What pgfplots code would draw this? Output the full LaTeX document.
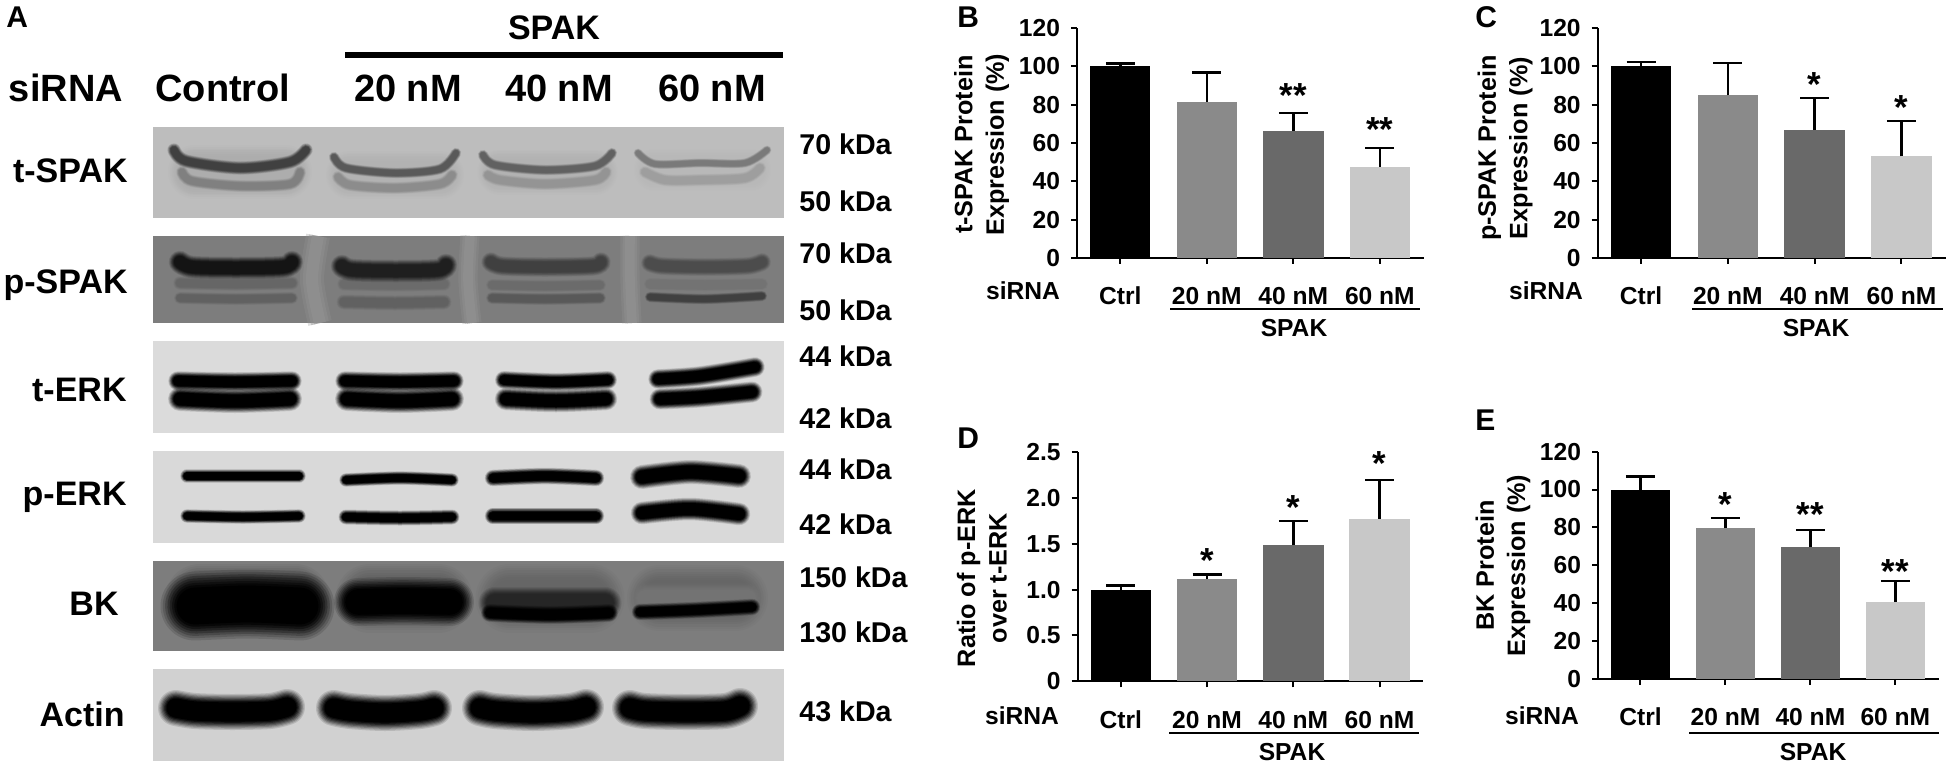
\documentclass[border=0pt]{standalone}
\usepackage{fontspec}
\setmainfont{Liberation Sans}
\usepackage{pgfplots}
\pgfplotsset{compat=1.18}
\definecolor{cA}{HTML}{000000}
\definecolor{cB}{HTML}{8A8A8A}
\definecolor{cC}{HTML}{696969}
\definecolor{cD}{HTML}{C8C8C8}
% soft band of a blot: #1 colour, #2 width in px, #3 points
\newcommand{\band}[3]{%
 \addplot[smooth,line cap=round,draw=#1,line width=1.5*#2*0.5pt,opacity=.12] coordinates {#3};
 \addplot[smooth,line cap=round,draw=#1,line width=1.4*#2*0.5pt,opacity=.15] coordinates {#3};
 \addplot[smooth,line cap=round,draw=#1,line width=1.3*#2*0.5pt,opacity=.2] coordinates {#3};
 \addplot[smooth,line cap=round,draw=#1,line width=1.2*#2*0.5pt,opacity=.25] coordinates {#3};
 \addplot[smooth,line cap=round,draw=#1,line width=1.1*#2*0.5pt,opacity=.3] coordinates {#3};
 \addplot[smooth,line cap=round,draw=#1,line width=1.0*#2*0.5pt,opacity=.4] coordinates {#3};
 \addplot[smooth,line cap=round,draw=#1,line width=0.9*#2*0.5pt,opacity=.6] coordinates {#3};
 \addplot[smooth,line cap=round,draw=#1,line width=0.8*#2*0.5pt] coordinates {#3};
}
\newcommand{\gap}[2]{%
 \addplot[smooth,draw=black!42,line width=1.2*#1*0.5pt,opacity=.3] coordinates {#2};
 \addplot[smooth,draw=black!42,line width=0.9*#1*0.5pt,opacity=.4] coordinates {#2};
 \addplot[smooth,draw=black!42,line width=0.6*#1*0.5pt,opacity=.5] coordinates {#2};
}
\newcommand{\blot}[5]{\addplot[fill=#5,draw=none] coordinates {(#1,#2)(#3,#2)(#3,#4)(#1,#4)} --cycle;}
\newcommand{\TX}[5]{\node[anchor=#3,font=\bfseries\fontsize{#4}{#4}\selectfont,inner sep=0pt] at (axis cs:#1,#2) {#5};}
\newcommand{\hln}[3]{\addplot[draw=black,line width=1.15pt] coordinates {(#1,#3)(#2,#3)};}
\newcommand{\stars}[3]{\node[anchor=base,yshift=-8pt,inner sep=0pt,font=\bfseries\fontsize{17.4}{17.4}\selectfont] at (axis cs:#1,#2) {#3};}
\newcommand{\onebar}[4]{\addplot[ybar,bar shift=0pt,fill=#1,draw=none,
   error bars/.cd,y dir=plus,y explicit,
   error bar style={draw=black,line width=1.3pt},
   error mark options={rotate=90,draw=black,line width=1.2pt,mark size=7.25pt}]
   coordinates {(#2,#3) +- (0,#4)};}
\pgfplotsset{bars/.style={
  scale only axis,clip=false,axis x line=bottom,axis y line=left,
  axis line style={-,line width=1pt,black},
  tick style={black,line width=1pt},tick align=outside,
  major tick length=3pt,
  xmin=-0.5,xmax=3.51,ymin=0,bar width=30.2pt,
  xtick={0,1,2,3},xticklabels={Ctrl,20 nM,40 nM,60 nM},
  tick label style={font=\bfseries\fontsize{12.3}{14}\selectfont},
  /pgf/number format/assume math mode=true,
  xticklabel style={anchor=base,yshift=-20.5pt,inner sep=0pt},
  yticklabel style={xshift=-2pt},
},
yl/.style n args={3}{ylabel={#1},y label style={at={(axis description cs:#2,#3)},anchor=center,align=center,inner sep=0pt,font=\bfseries\fontsize{12.6}{15.7}\selectfont}}}
\begin{document}
\begin{tikzpicture}
\path[use as bounding box] (0,0) rectangle (975pt,383pt);
\begin{axis}[at={(0pt,0pt)},anchor=south west,scale only axis,width=975pt,height=383pt,
  xmin=0,xmax=1950,ymin=0,ymax=766,y dir=reverse,hide axis,clip=false]
% blot backgrounds
\blot{153}{127}{784}{218}{black!26}
\blot{153}{236}{784}{323}{black!51}
\blot{153}{341}{784}{433}{black!14}
\blot{153}{451}{784}{543}{black!15}
\blot{153}{561}{784}{651}{black!51}
\blot{153}{669}{784}{761}{black!18}
% t-SPAK
\band{black!32}{36}{(195,172)(285,172)}
\band{black!30}{32}{(350,175)(440,175)}
\band{black!30}{30}{(500,172)(595,172)}
\band{black!28}{28}{(655,170)(750,170)}
\band{black!75}{9}{(174,150)(186,161)(240,168)(290,162)(306,150)}
\band{black!50}{8}{(182,172)(192,181)(240,186)(290,184)(300,172)}
\band{black!65}{7}{(334,157)(346,168)(395,173)(440,169)(456,153)}
\band{black!45}{8}{(338,177)(350,185)(395,188)(440,184)(452,175)}
\band{black!62}{7}{(483,155)(495,165)(545,170)(595,166)(612,153)}
\band{black!42}{8}{(488,175)(500,180)(545,184)(595,180)(606,172)}
\band{black!52}{6}{(638,153)(655,164)(700,163)(745,163)(767,150)}
\band{black!38}{8}{(645,172)(665,180)(700,180)(745,178)(760,168)}
% p-SPAK
\gap{20}{(318,236)(312,280)(320,323)}
\gap{16}{(470,236)(468,280)(472,323)}
\gap{16}{(630,236)(630,280)(632,323)}
\band{black!60}{9}{(180,283)(236,284)(292,283)}
\band{black!62}{8}{(180,298)(236,299)(292,298)}
\band{black!92}{15}{(180,262)(192,267)(236,268)(283,267)(292,262)}
\band{black!58}{9}{(344,284)(395,285)(444,284)}
\band{black!62}{10}{(344,302)(395,303)(444,302)}
\band{black!88}{15}{(342,266)(352,270)(395,271)(438,270)(446,265)}
\band{black!58}{8}{(492,285)(545,286)(600,285)}
\band{black!65}{8}{(492,298)(545,299)(600,298)}
\band{black!75}{13}{(491,262)(502,266)(545,267)(593,266)(601,262)}
\band{black!55}{8}{(650,284)(705,285)(762,284)}
\band{black!75}{7}{(650,297)(705,299)(762,296)}
\band{black!70}{12}{(650,263)(662,266)(705,267)(748,266)(762,262)}
% t-ERK
\band{black}{13}{(178,381)(235,382)(292,381)}
\band{black}{16}{(180,399)(235,401)(290,399)}
\band{black}{13}{(345,381)(400,382)(454,381)}
\band{black}{16}{(347,399)(400,401)(452,399)}
\band{black}{12}{(504,380)(556,382)(608,380)}
\band{black}{15}{(506,399)(556,401)(606,399)}
\band{black}{13}{(658,379)(700,376)(755,367)}
\band{black}{14}{(660,399)(700,397)(752,392)}
% p-ERK
\band{black}{9}{(187,476)(243,476)(299,476)}
\band{black}{9}{(187,516)(243,517)(299,516)}
\band{black}{9}{(346,480)(400,478)(452,480)}
\band{black}{10}{(346,517)(400,518)(452,517)}
\band{black}{11}{(493,478)(545,476)(596,478)}
\band{black}{11}{(493,516)(545,516)(596,516)}
\band{black}{16}{(642,477)(690,472)(739,476)}
\band{black}{15}{(642,513)(690,509)(739,514)}
% BK
\band{black!66}{46}{(200,598)(295,598)}
\band{black!62}{46}{(370,598)(438,598)}
\band{black!60}{46}{(510,598)(590,598)}
\band{black!60}{44}{(660,598)(735,598)}
\band{black}{46}{(195,606)(247,604)(300,606)}
\band{black}{32}{(358,602)(403,601)(450,602)}
\band{black!85}{22}{(495,603)(550,603)(605,603)}
\band{black}{12}{(490,613)(550,615)(609,613)}
\band{black!55}{20}{(645,598)(696,598)(748,598)}
\band{black}{11}{(640,612)(696,610)(752,607)}
% Actin
\band{black}{24}{(176,708)(195,711)(232,712)(270,711)(287,707)}
\band{black}{24}{(334,708)(350,711)(385,713)(420,711)(434,708)}
\band{black}{24}{(480,708)(495,711)(533,713)(570,711)(586,707)}
\band{black}{24}{(630,708)(645,711)(685,712)(725,711)(740,706)}
% panel A text
\TX{6}{27}{base west}{15}{A}
\TX{554}{39}{base}{17}{SPAK}
\addplot[draw=black,line width=2.9pt] coordinates {(345,55)(783,55)};
\TX{66}{101.7}{base}{19}{siRNA}
\TX{223}{101.7}{base}{19}{Control}
\TX{408}{101.7}{base}{19}{20 nM}
\TX{559}{101.7}{base}{19}{40 nM}
\TX{712}{101.7}{base}{19}{60 nM}
\TX{128}{182}{base east}{17}{t-SPAK}
\TX{128}{293}{base east}{17}{p-SPAK}
\TX{127}{401}{base east}{17}{t-ERK}
\TX{127}{505.7}{base east}{17}{p-ERK}
\TX{119}{615}{base east}{17}{BK}
\TX{125}{726}{base east}{17}{Actin}
\TX{799}{154}{base west}{14.3}{70 kDa}
\TX{799}{211}{base west}{14.3}{50 kDa}
\TX{799}{263}{base west}{14.3}{70 kDa}
\TX{799}{320}{base west}{14.3}{50 kDa}
\TX{799}{366}{base west}{14.3}{44 kDa}
\TX{799}{428}{base west}{14.3}{42 kDa}
\TX{799}{479}{base west}{14.3}{44 kDa}
\TX{799}{534}{base west}{14.3}{42 kDa}
\TX{799}{587}{base west}{14.3}{150 kDa}
\TX{799}{642}{base west}{14.3}{130 kDa}
\TX{799}{721}{base west}{14.3}{43 kDa}
% panel letters and group labels
\TX{957}{27}{base west}{15}{B}
\TX{1475}{27}{base west}{15}{C}
\TX{957}{448}{base west}{15}{D}
\TX{1475}{430}{base west}{15}{E}
\TX{1023}{299}{base}{12.3}{siRNA}
\TX{1546}{299}{base}{12.3}{siRNA}
\TX{1022}{724}{base}{12.3}{siRNA}
\TX{1542}{724}{base}{12.3}{siRNA}
\hln{1170}{1420}{309}
\hln{1692}{1943}{309}
\hln{1169}{1419}{733}
\hln{1689}{1939}{733}
\TX{1294}{336}{base}{12.3}{SPAK}
\TX{1816}{336}{base}{12.3}{SPAK}
\TX{1292}{760}{base}{12.3}{SPAK}
\TX{1813}{760}{base}{12.3}{SPAK}
\end{axis}
% B
\begin{axis}[bars,at={(538.5pt,254pt)},width=173.5pt,height=115pt,ymax=120,
  ytick={0,20,...,120},yl={t-SPAK Protein\\Expression (\%)}{-0.275}{0.493}]
\onebar{cA}{0}{100}{1.5}
\onebar{cB}{1}{81.6}{15.1}
\onebar{cC}{2}{66.3}{9.4}
\onebar{cD}{3}{47.6}{9.9}
\stars{2}{86.8}{**}
\stars{3}{68.9}{**}
\end{axis}
% C
\begin{axis}[bars,at={(798.85pt,254pt)},width=174pt,height=115pt,ymax=120,
  ytick={0,20,...,120},yl={p-SPAK Protein\\Expression (\%)}{-0.266}{0.478}]
\onebar{cA}{0}{100}{2.3}
\onebar{cB}{1}{84.9}{16.7}
\onebar{cC}{2}{66.8}{16.7}
\onebar{cD}{3}{53}{18.4}
\stars{2}{92.5}{*}
\stars{3}{80.7}{*}
\end{axis}
% D
\begin{axis}[bars,at={(538.85pt,42.35pt)},width=172.5pt,height=114.5pt,ymax=2.5,xmax=3.5,
  ytick={0,0.5,1,1.5,2,2.5},yticklabels={0,0.5,1.0,1.5,2.0,2.5},
  yl={Ratio of p-ERK\\over t-ERK}{-0.278}{0.45}]
\onebar{cA}{0}{1.0}{0.044}
\onebar{cB}{1}{1.113}{0.051}
\onebar{cC}{2}{1.485}{0.265}
\onebar{cD}{3}{1.776}{0.422}
\stars{1}{1.365}{*}
\stars{2}{1.943}{*}
\stars{3}{2.42}{*}
\end{axis}
% E
\begin{axis}[bars,at={(799pt,43.65pt)},width=170.35pt,height=113.5pt,ymax=120,bar width=29.7pt,
  ytick={0,20,...,120},yl={BK Protein\\Expression (\%)}{-0.279}{0.498}]
\onebar{cA}{0}{100}{6.8}
\onebar{cB}{1}{79.6}{5.2}
\onebar{cC}{2}{69.8}{8.8}
\onebar{cD}{3}{40.5}{11}
\stars{1}{94}{*}
\stars{2}{88.8}{**}
\stars{3}{58.6}{**}
\end{axis}
\end{tikzpicture}
\end{document}
